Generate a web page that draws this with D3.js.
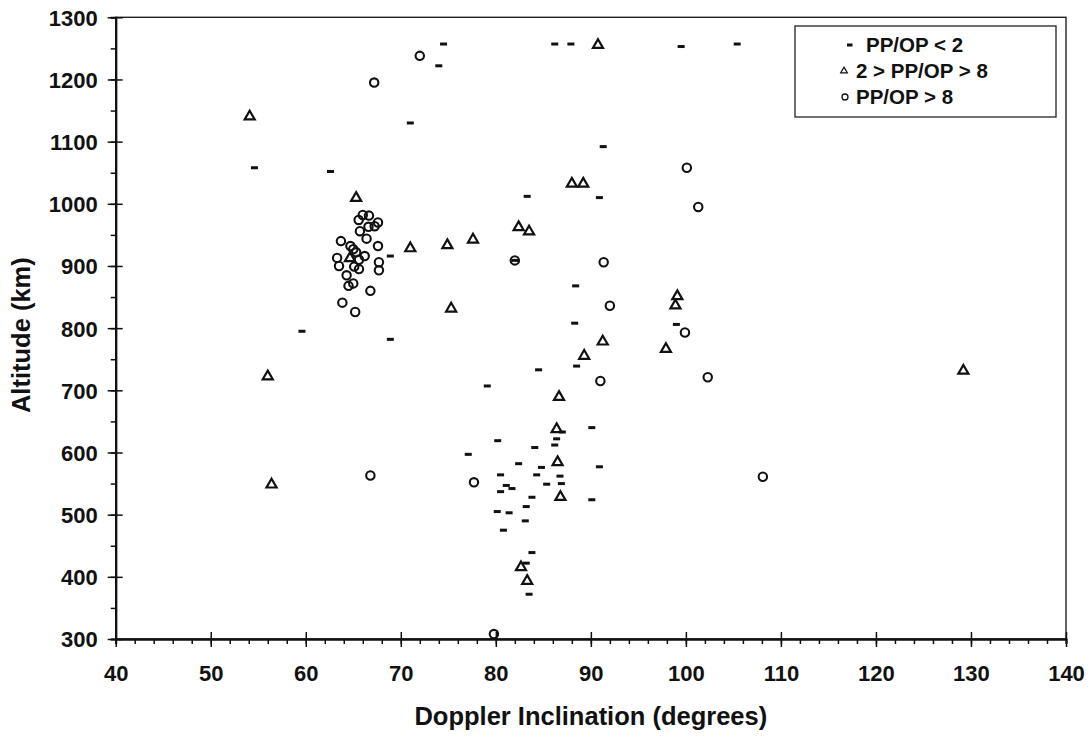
<!DOCTYPE html>
<html>
<head>
<meta charset="utf-8">
<script src="https://cdn.jsdelivr.net/npm/d3@7"></script>
<style>
  html, body { margin: 0; padding: 0; background: #fff; }
  svg text { font-family: "Liberation Sans", Arial, sans-serif; font-weight: bold; fill: #111; }
</style>
</head>
<body>
<div id="chart"></div>
<script>
// [inclination (deg), altitude (km)]
const lowRatio = [
  [74.5,1257],[74.0,1222],[86.2,1257],[87.9,1257],[99.5,1253],[105.4,1257],[71.0,1130],[91.3,1092],
  [54.6,1058],[62.6,1052],[83.3,1012],[90.9,1010],[68.9,916],[82.0,909],[59.6,795],[68.9,782],
  [88.4,868],[88.3,808],[99.0,806],[88.5,739],[84.5,733],[79.1,707],[87.0,633],[90.1,640],
  [80.2,619],[86.4,622],[86.2,612],[77.1,597],[84.1,608],[82.4,582],[84.8,576],[90.9,577],
  [80.5,564],[84.3,564],[86.75,562],[81.1,547],[81.7,542],[85.35,549],[86.9,550],[80.5,537],
  [83.8,528],[90.1,524],[83.2,513],[80.15,505],[81.4,503],[83.1,490],[80.8,475],[83.8,439],
  [83.2,422],[83.5,372]
];
const midRatio = [
  [90.75,1257],[54.1,1142],[65.3,1011],[88.0,1034],[89.2,1034],[82.4,964],[83.5,957],[77.6,944],
  [74.9,935],[71.0,930],[64.65,914],[75.3,833],[99.1,853],[98.9,838],[56.0,724],[91.25,780],
  [97.9,768],[89.3,757],[86.65,691],[86.4,639],[86.5,586],[56.4,550],[86.8,530],[82.65,417],
  [83.3,395],[129.2,733]
];
const highRatio = [
  [72.0,1238],[67.2,1195],[100.1,1058],[101.3,995],[66.0,982],[66.65,981],[65.57,974],[67.6,970],
  [67.25,964],[66.6,963],[65.7,956],[66.4,944],[63.7,940],[67.6,932],[64.7,932],[65.0,927],
  [65.3,922],[66.2,916],[63.3,913],[65.6,910],[67.7,906],[63.5,900],[65.1,899],[65.6,895],
  [67.7,893],[64.3,885],[65.0,872],[64.5,868],[66.8,860],[63.85,841],[65.2,826],[82.0,909],
  [91.35,906],[92.0,836],[99.9,793],[91.0,715],[102.3,721],[66.8,563],[77.7,552],[108.1,561],
  [79.8,308]
];
const legendLabels = ['PP/OP < 2', '2 > PP/OP > 8', 'PP/OP > 8'];
const xTicks = d3.range(40, 141, 10);
const yTicks = d3.range(300, 1301, 100);

const width = 1091, height = 736;
const plot = { left: 115.7, right: 1066, top: 17.3, bottom: 639 };

const svg = d3.select('#chart')
  .append('svg')
  .attr('width', width)
  .attr('height', height);

const x = d3.scaleLinear().domain([40, 140]).range([plot.left, plot.right]);
const y = d3.scaleLinear().domain([300, 1300]).range([plot.bottom, plot.top]);

// frame
svg.append('rect')
  .attr('x', plot.left).attr('y', plot.top)
  .attr('width', plot.right - plot.left).attr('height', plot.bottom - plot.top)
  .attr('fill', 'none')
  .attr('stroke', '#222')
  .attr('stroke-width', 1.4);

// minor ticks (outward)
const xAxisMinor = svg.append('g')
  .attr('transform', `translate(0,${plot.bottom})`)
  .call(d3.axisBottom(x).tickValues(d3.range(40, 141, 2)).tickSize(5).tickFormat(''));
const yAxisMinor = svg.append('g')
  .attr('transform', `translate(${plot.left},0)`)
  .call(d3.axisLeft(y).tickValues(d3.range(300, 1301, 50)).tickSize(5).tickFormat(''));

// major ticks (crossing) with labels
const xAxis = svg.append('g')
  .attr('transform', `translate(0,${plot.bottom})`)
  .call(d3.axisBottom(x).tickValues(xTicks).tickFormat(d3.format('d'))
    .tickSizeInner(8).tickSizeOuter(0).tickPadding(18));
xAxis.selectAll('.tick line').attr('y1', -7);
xAxis.selectAll('text').style('font-size', '22px');

const yAxis = svg.append('g')
  .attr('transform', `translate(${plot.left},0)`)
  .call(d3.axisLeft(y).tickValues(yTicks).tickFormat(d3.format('d'))
    .tickSizeInner(8).tickSizeOuter(0).tickPadding(10));
yAxis.selectAll('.tick line').attr('x1', 7);
yAxis.selectAll('text').style('font-size', '22px').attr('dy', '0.36em');

[xAxisMinor, yAxisMinor, xAxis, yAxis].forEach(g => {
  g.select('.domain').attr('stroke', '#111').attr('stroke-width', 2);
  g.selectAll('.tick line').attr('stroke', '#111').attr('stroke-width', 1.5);
});

// axis titles
svg.append('text')
  .attr('x', (plot.left + plot.right) / 2)
  .attr('y', 725)
  .attr('text-anchor', 'middle')
  .style('font-size', '25.5px')
  .text('Doppler Inclination (degrees)');

svg.append('text')
  .attr('transform', `translate(30,${(plot.top + plot.bottom) / 2 + 7}) rotate(-90)`)
  .attr('text-anchor', 'middle')
  .style('font-size', '25.5px')
  .text('Altitude (km)');

const tri = d3.symbol().type(d3.symbolTriangle).size(44);

// marks
svg.append('g').selectAll('rect')
  .data(lowRatio)
  .enter()
  .append('rect')
  .attr('x', d => x(d[0]) - 3.5)
  .attr('y', d => y(d[1]) - 1.5)
  .attr('width', 7)
  .attr('height', 3)
  .attr('fill', '#111');

svg.append('g').selectAll('path')
  .data(midRatio)
  .enter()
  .append('path')
  .attr('d', tri)
  .attr('transform', d => `translate(${x(d[0])},${y(d[1]) + 1})`)
  .attr('fill', 'none')
  .attr('stroke', '#111')
  .attr('stroke-width', 2.2);

svg.append('g').selectAll('circle')
  .data(highRatio)
  .enter()
  .append('circle')
  .attr('cx', d => x(d[0]))
  .attr('cy', d => y(d[1]))
  .attr('r', 4.2)
  .attr('fill', 'none')
  .attr('stroke', '#111')
  .attr('stroke-width', 2.1);

// legend
const legend = svg.append('g');
legend.append('rect')
  .attr('x', 795).attr('y', 26)
  .attr('width', 261).attr('height', 91)
  .attr('fill', '#fff')
  .attr('stroke', '#222')
  .attr('stroke-width', 1.3);

legend.append('rect')
  .attr('x', 847).attr('y', 43.5)
  .attr('width', 5.5).attr('height', 3)
  .attr('fill', '#111');
legend.append('path')
  .attr('d', d3.symbol().type(d3.symbolTriangle).size(20))
  .attr('transform', 'translate(844,71)')
  .attr('fill', 'none')
  .attr('stroke', '#111')
  .attr('stroke-width', 1.2);
legend.append('circle')
  .attr('cx', 845).attr('cy', 97)
  .attr('r', 3)
  .attr('fill', 'none')
  .attr('stroke', '#111')
  .attr('stroke-width', 1.3);

const legendX = [866, 856, 856];
const legendY = [52, 78, 104];
legend.selectAll('text.lbl')
  .data(legendLabels)
  .enter()
  .append('text')
  .attr('class', 'lbl')
  .attr('x', (d, i) => legendX[i])
  .attr('y', (d, i) => legendY[i])
  .style('font-size', '20.5px')
  .text(d => d);
</script>
</body>
</html>
